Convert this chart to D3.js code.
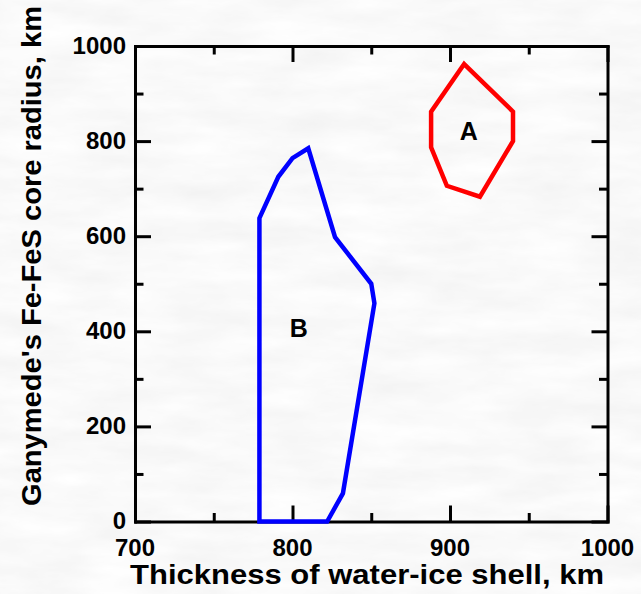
<!DOCTYPE html>
<html>
<head>
<meta charset="utf-8">
<script src="https://cdn.jsdelivr.net/npm/d3@7"></script>
<style>
html,body{margin:0;padding:0;background:#f3f3f3;}
svg{display:block;}
</style>
</head>
<body>
<svg id="chart" width="641" height="594"></svg>
<script>
// ---- data ----
const xTicks = [700, 800, 900, 1000];
const xMinorTicks = [750, 850, 950];
const yTicks = [0, 200, 400, 600, 800, 1000];
const yMinorTicks = [100, 300, 500, 700, 900];
const regionA = [[909,962],[940,862],[940,800],[919,683],[898,706],[888,787],[888,862]];
const regionB = [[779,0],[779,638],[791,725],[800,764],[810,785],[827,598],[850,500],[852,459],[832,59],[822,0]];
const regionLabels = [{name:"A", x:912, y:821}, {name:"B", x:804, y:407}];
const xTitle = "Thickness of water-ice shell, km";
const yTitle = "Ganymede's Fe-FeS core radius, km";

const W = 641, H = 594;
const FONT = "'Liberation Sans', Arial, Helvetica, sans-serif";
const svg = d3.select("#chart");

// background texture
const defs = svg.append("defs");
const f = defs.append("filter").attr("id","marble").attr("x",0).attr("y",0).attr("width","100%").attr("height","100%");
f.append("feTurbulence").attr("type","fractalNoise").attr("baseFrequency","0.012 0.045").attr("numOctaves",4).attr("seed",3);
f.append("feColorMatrix").attr("type","matrix")
  .attr("values","0.13 0 0 0 0.885  0.13 0 0 0 0.885  0.13 0 0 0 0.885  0 0 0 0 1");
svg.append("rect").attr("width",W).attr("height",H).attr("filter","url(#marble)");

const x = d3.scaleLinear().domain([700,1000]).range([135,607.5]);
const y = d3.scaleLinear().domain([0,1000]).range([521.5,46]);

const MAJ = 16, MIN = 8.5;
const axStyle = g => g.selectAll("path,line").attr("stroke","#000").attr("stroke-width",3);

function addAxis(axisFn, scale, vals, size, transform, keepDomain) {
  const g = svg.append("g").attr("transform", transform)
    .call(axisFn(scale).tickValues(vals).tickSize(size).tickSizeOuter(0).tickFormat(""))
    .call(axStyle);
  if (!keepDomain) g.select(".domain").remove();
  return g;
}
// bottom
addAxis(d3.axisTop, x, xTicks, MAJ, `translate(0,${y(0)})`, true);
addAxis(d3.axisTop, x, xMinorTicks, MIN, `translate(0,${y(0)})`, false);
// top
addAxis(d3.axisBottom, x, xTicks, MAJ, `translate(0,${y(1000)})`, true);
addAxis(d3.axisBottom, x, xMinorTicks, MIN, `translate(0,${y(1000)})`, false);
// left
addAxis(d3.axisRight, y, yTicks, MAJ, `translate(${x(700)},0)`, true);
addAxis(d3.axisRight, y, yMinorTicks, MIN, `translate(${x(700)},0)`, false);
// right
addAxis(d3.axisLeft, y, yTicks, MAJ, `translate(${x(1000)},0)`, true);
addAxis(d3.axisLeft, y, yMinorTicks, MIN, `translate(${x(1000)},0)`, false);
svg.selectAll(".domain").attr("stroke-linecap","square");

const txt = sel => sel.attr("font-family",FONT).attr("font-weight","bold").attr("fill","#000");

// tick labels
svg.append("g").selectAll("text").data(xTicks).join("text")
  .attr("x",d=>x(d)).attr("y",556).attr("text-anchor","middle")
  .attr("font-size",24).call(txt).text(d=>d);
svg.append("g").selectAll("text").data(yTicks).join("text")
  .attr("x",126).attr("y",d=>y(d)).attr("dy","0.32em").attr("text-anchor","end")
  .attr("font-size",24).call(txt).text(d=>d);

// axis titles
svg.append("text").attr("x",367).attr("y",584).attr("text-anchor","middle")
  .attr("textLength",474).attr("lengthAdjust","spacingAndGlyphs")
  .attr("font-size",27).call(txt).text(xTitle);
svg.append("text").attr("transform","translate(41,256) rotate(-90)").attr("text-anchor","middle")
  .attr("textLength",500).attr("lengthAdjust","spacingAndGlyphs")
  .attr("font-size",27).call(txt).text(yTitle);

// regions
const line = d3.line().x(d=>x(d[0])).y(d=>y(d[1])).curve(d3.curveLinearClosed);
svg.append("path").attr("d",line(regionA)).attr("fill","none").attr("stroke","#ff0000")
  .attr("stroke-width",4.5).attr("stroke-linejoin","miter");
svg.append("path").attr("d",line(regionB)).attr("fill","none").attr("stroke","#0000ff")
  .attr("stroke-width",4.5).attr("stroke-linejoin","miter");

svg.append("g").selectAll("text").data(regionLabels).join("text")
  .attr("x",d=>x(d.x)).attr("y",d=>y(d.y)).attr("dy","0.36em").attr("text-anchor","middle")
  .attr("font-size",25).call(txt).text(d=>d.name);
</script>
</body>
</html>
